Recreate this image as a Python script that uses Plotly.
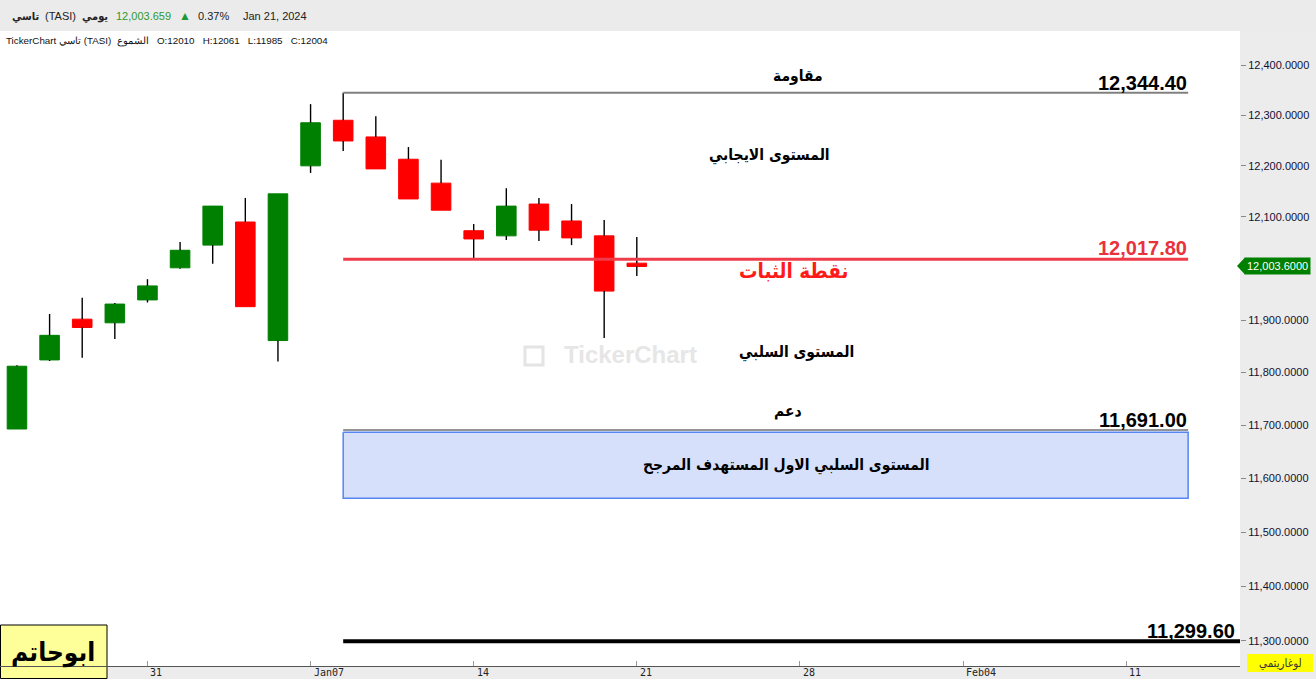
import math
import plotly.graph_objects as go

# ---------------- data ----------------
dates = ["Dec 25", "Dec 26", "Dec 27", "Dec 28", "Dec 31", "Jan 01", "Jan 02", "Jan 03",
         "Jan 04", "Jan 07", "Jan 08", "Jan 09", "Jan 10", "Jan 11", "Jan 14", "Jan 15",
         "Jan 16", "Jan 17", "Jan 18", "Jan 21"]
opens = [11693, 11824, 11902, 11895, 11939, 12001, 12045, 12090, 11861, 12200,
         12290, 12257, 12213, 12166, 12073, 12063, 12125, 12092, 12063, 12010]
highs = [11814, 11912, 11943, 11933, 11979, 12051, 12121, 12137, 12145, 12322,
         12344.4, 12298, 12237, 12212, 12086, 12156, 12137, 12125, 12094, 12061]
lows = [11693, 11822, 11828, 11864, 11934, 11999, 12009, 11926, 11821, 12186,
        12229, 12194, 12135, 12113, 12018, 12055, 12053, 12045, 11866, 11985]
closes = [11812, 11871, 11886, 11931, 11966, 12035, 12121, 11926, 12145, 12285,
          12249, 12194, 12135, 12113, 12057, 12121, 12074, 12059, 11956, 12003.6]

tick_pos = [4, 9, 14, 19, 24, 29, 34]
tick_labels = ["31", "Jan07", "14", "21", "28", "Feb04", "11"]
y_tick_vals = [11300, 11400, 11500, 11600, 11700, 11800, 11900, 12000, 12100, 12200, 12300, 12400]

resistance = 12344.40
pivot = 12017.80
support = 11691.00
zone_high = 11687.0
zone_low = 11563.0
target = 11299.60
level_start = 10      # Jan 08 candle
level_end = 35.9
x_range = [-0.52, 37.49]
y_range_vals = [11254.5, 12468.2]

# ---------------- geometry helpers ----------------
W, H = 1316, 679
ML, MR, MT, MB = 0, 76, 31, 13
PW = W - ML - MR
PH = H - MT - MB


def px(x):
    return (x - ML) / PW


def py(y):
    return (H - MB - y) / PH


fig = go.Figure()

# bodies
idx = list(range(len(dates)))
body_hi = [max(o, c) for o, c in zip(opens, closes)]
body_lo = [min(o, c) for o, c in zip(opens, closes)]
fig.add_trace(go.Candlestick(
    x=idx, open=opens, close=closes, high=body_hi, low=body_lo,
    increasing=dict(line=dict(color="#008000", width=1), fillcolor="#008000"),
    decreasing=dict(line=dict(color="#ff0000", width=1), fillcolor="#ff0000"),
    whiskerwidth=0, showlegend=False, hoverinfo="skip",
))

# wicks (black), split so they do not cross the bodies
wx, wy = [], []
for i in idx:
    wx += [i, i, None, i, i, None]
    wy += [highs[i], body_hi[i], None, body_lo[i], lows[i], None]
fig.add_trace(go.Scatter(x=wx, y=wy, mode="lines", line=dict(color="black", width=1.4),
                         showlegend=False, hoverinfo="skip"))

# target zone box
fig.add_trace(go.Scatter(
    x=[level_start, level_end, level_end, level_start, level_start],
    y=[zone_high, zone_high, zone_low, zone_low, zone_high],
    mode="lines", fill="toself", fillcolor="#d6e0fb",
    line=dict(color="#5586ef", width=1.5), showlegend=False, hoverinfo="skip"))

# levels
fig.add_trace(go.Scatter(x=[level_start, level_end], y=[resistance, resistance], mode="lines",
                         line=dict(color="#808080", width=2), showlegend=False, hoverinfo="skip"))
fig.add_trace(go.Scatter(x=[level_start, level_end], y=[pivot, pivot], mode="lines",
                         line=dict(color="#f03c4a", width=3), showlegend=False, hoverinfo="skip"))
fig.add_trace(go.Scatter(x=[level_start, level_end], y=[support, support], mode="lines",
                         line=dict(color="#707070", width=1.5), showlegend=False, hoverinfo="skip"))
fig.add_trace(go.Scatter(x=[level_start, x_range[1]], y=[target, target], mode="lines",
                         line=dict(color="black", width=4), showlegend=False, hoverinfo="skip"))

AR = "DejaVu Sans Condensed, DejaVu Sans"
LAT = "Liberation Sans"
ann = []


def text(x, y, t, size, color="black", family=AR, weight="bold", xanchor="center",
         yanchor="middle", **kw):
    ann.append(dict(x=px(x), y=py(y), xref="paper", yref="paper", text=t, showarrow=False,
                    xanchor=xanchor, yanchor=yanchor,
                    font=dict(family=family, size=size, color=color, weight=weight), **kw))


# chart texts
text(798, 76, "مقاومة", 15.5)
text(769, 155, "المستوى الايجابي", 15.5)
text(794, 271, "نقطة الثبات", 20.5, color="#ff1a1a")
text(796, 352, "المستوى السلبي", 15.5)
text(788, 411, "دعم", 15.5)
text(786, 465, "المستوى السلبي الاول المستهدف المرجح", 15.5)

text(1189, 83, f"{resistance:,.2f}", 20, family=LAT, xanchor="right")
text(1189, 248, f"{pivot:,.2f}", 20, color="#e8323c", family=LAT, xanchor="right")
text(1189, 420, f"{support:,.2f}", 20, family=LAT, xanchor="right")
text(1237, 631, f"{target:,.2f}", 20, family=LAT, xanchor="right")

# watermark
text(630, 355, "TickerChart", 24, color="#e6e6e6", family=LAT, weight="bold")

# header
text(10, 16, "تاسي", 11, family=AR, weight="bold", xanchor="left", color="#222")
text(43, 16, "(TASI)", 11, family=LAT, weight="normal", xanchor="left", color="#222")
text(80, 16, "يومي", 11, family=AR, weight="bold", xanchor="left", color="#222")
text(114, 16, "12,003.659", 11, family=LAT, weight="normal", xanchor="left", color="#2e9a2e")
text(177, 16, "▲", 12, family=LAT, weight="normal", xanchor="left", color="#1a9a3a")
text(196, 16, "0.37%", 11, family=LAT, weight="normal", xanchor="left", color="#222")
text(241, 16, "Jan 21, 2024", 11, family=LAT, weight="normal", xanchor="left", color="#222")
text(4, 41, "TickerChart تاسي (TASI)  الشموع   O:12010   H:12061   L:11985   C:12004", 9.8,
     family=LAT, weight="normal", xanchor="left", color="#111")

# author box
text(53, 652, "ابوحاتم", 26)

# logarithmic label
text(1280, 663, "لوغاريتمي", 11.5, family=AR, weight="normal", color="#333")

# x tick labels
for p, lab in zip(tick_pos, tick_labels):
    ann.append(dict(x=p, y=0, xref="x", yref="paper", text=lab, showarrow=False,
                    xanchor="left", yanchor="top", xshift=1, yshift=1,
                    font=dict(family="DejaVu Sans Mono", size=10, color="#222")))

# current price tag
ann.append(dict(x=px(1244), y=math.log10(closes[-1]), xref="paper", yref="y",
                text=f"{closes[-1]:,.4f}", showarrow=False, xanchor="left", yanchor="middle",
                bgcolor="#008000", borderpad=2,
                font=dict(family=LAT, size=11, color="white")))

shapes = [
    # header band
    dict(type="rect", xref="paper", yref="paper", x0=px(0), x1=px(W), y0=py(31), y1=py(0),
         fillcolor="#ebebeb", line=dict(width=0), layer="below"),
    # author box
    dict(type="rect", xref="paper", yref="paper", x0=px(0.5), x1=px(107), y0=py(678.5), y1=py(625),
         fillcolor="#ffff99", line=dict(color="black", width=1), layer="below"),
    # log label box
    dict(type="rect", xref="paper", yref="paper", x0=px(1247), x1=px(1313), y0=py(672), y1=py(654),
         fillcolor="#ffff00", line=dict(width=0), layer="below"),
    # watermark icon
    dict(type="rect", xref="paper", yref="paper", x0=px(525), x1=px(543), y0=py(365), y1=py(347),
         fillcolor="rgba(0,0,0,0)", line=dict(color="#e4e4e4", width=3)),
    # price tag pointer
    dict(type="path", xref="paper", yref="paper",
         path=f"M {px(1237)} {py(266)} L {px(1245)} {py(257.5)} L {px(1245)} {py(274.5)} Z",
         fillcolor="#008000", line=dict(width=0)),
]

fig.update_layout(
    width=W, height=H,
    margin=dict(l=ML, r=MR, t=MT, b=MB, pad=0),
    paper_bgcolor="#ececec", plot_bgcolor="white",
    boxgap=0.4, boxgroupgap=0,
    showlegend=False,
    annotations=ann, shapes=shapes,
    xaxis=dict(range=x_range, showgrid=False, zeroline=False, tickvals=tick_pos,
               ticktext=["" for _ in tick_pos], ticks="inside", ticklen=5, tickcolor="#999",
               showline=True, linecolor="#555", linewidth=1, rangeslider=dict(visible=False),
               fixedrange=True),
    yaxis=dict(type="log", side="right",
               range=[math.log10(y_range_vals[0]), math.log10(y_range_vals[1])],
               tickvals=y_tick_vals, ticktext=[f"{v:,.4f}" for v in y_tick_vals],
               ticks="outside", ticklen=5, tickcolor="#888", showgrid=False, zeroline=False,
               showline=False, tickfont=dict(family=LAT, size=11, color="#111133"),
               fixedrange=True),
)

fig.write_html(
    "out.html",
    config={"displayModeBar": False},
    post_script="document.body.style.margin='0';document.body.style.padding='0';"
                "document.body.style.overflow='hidden';",
)
